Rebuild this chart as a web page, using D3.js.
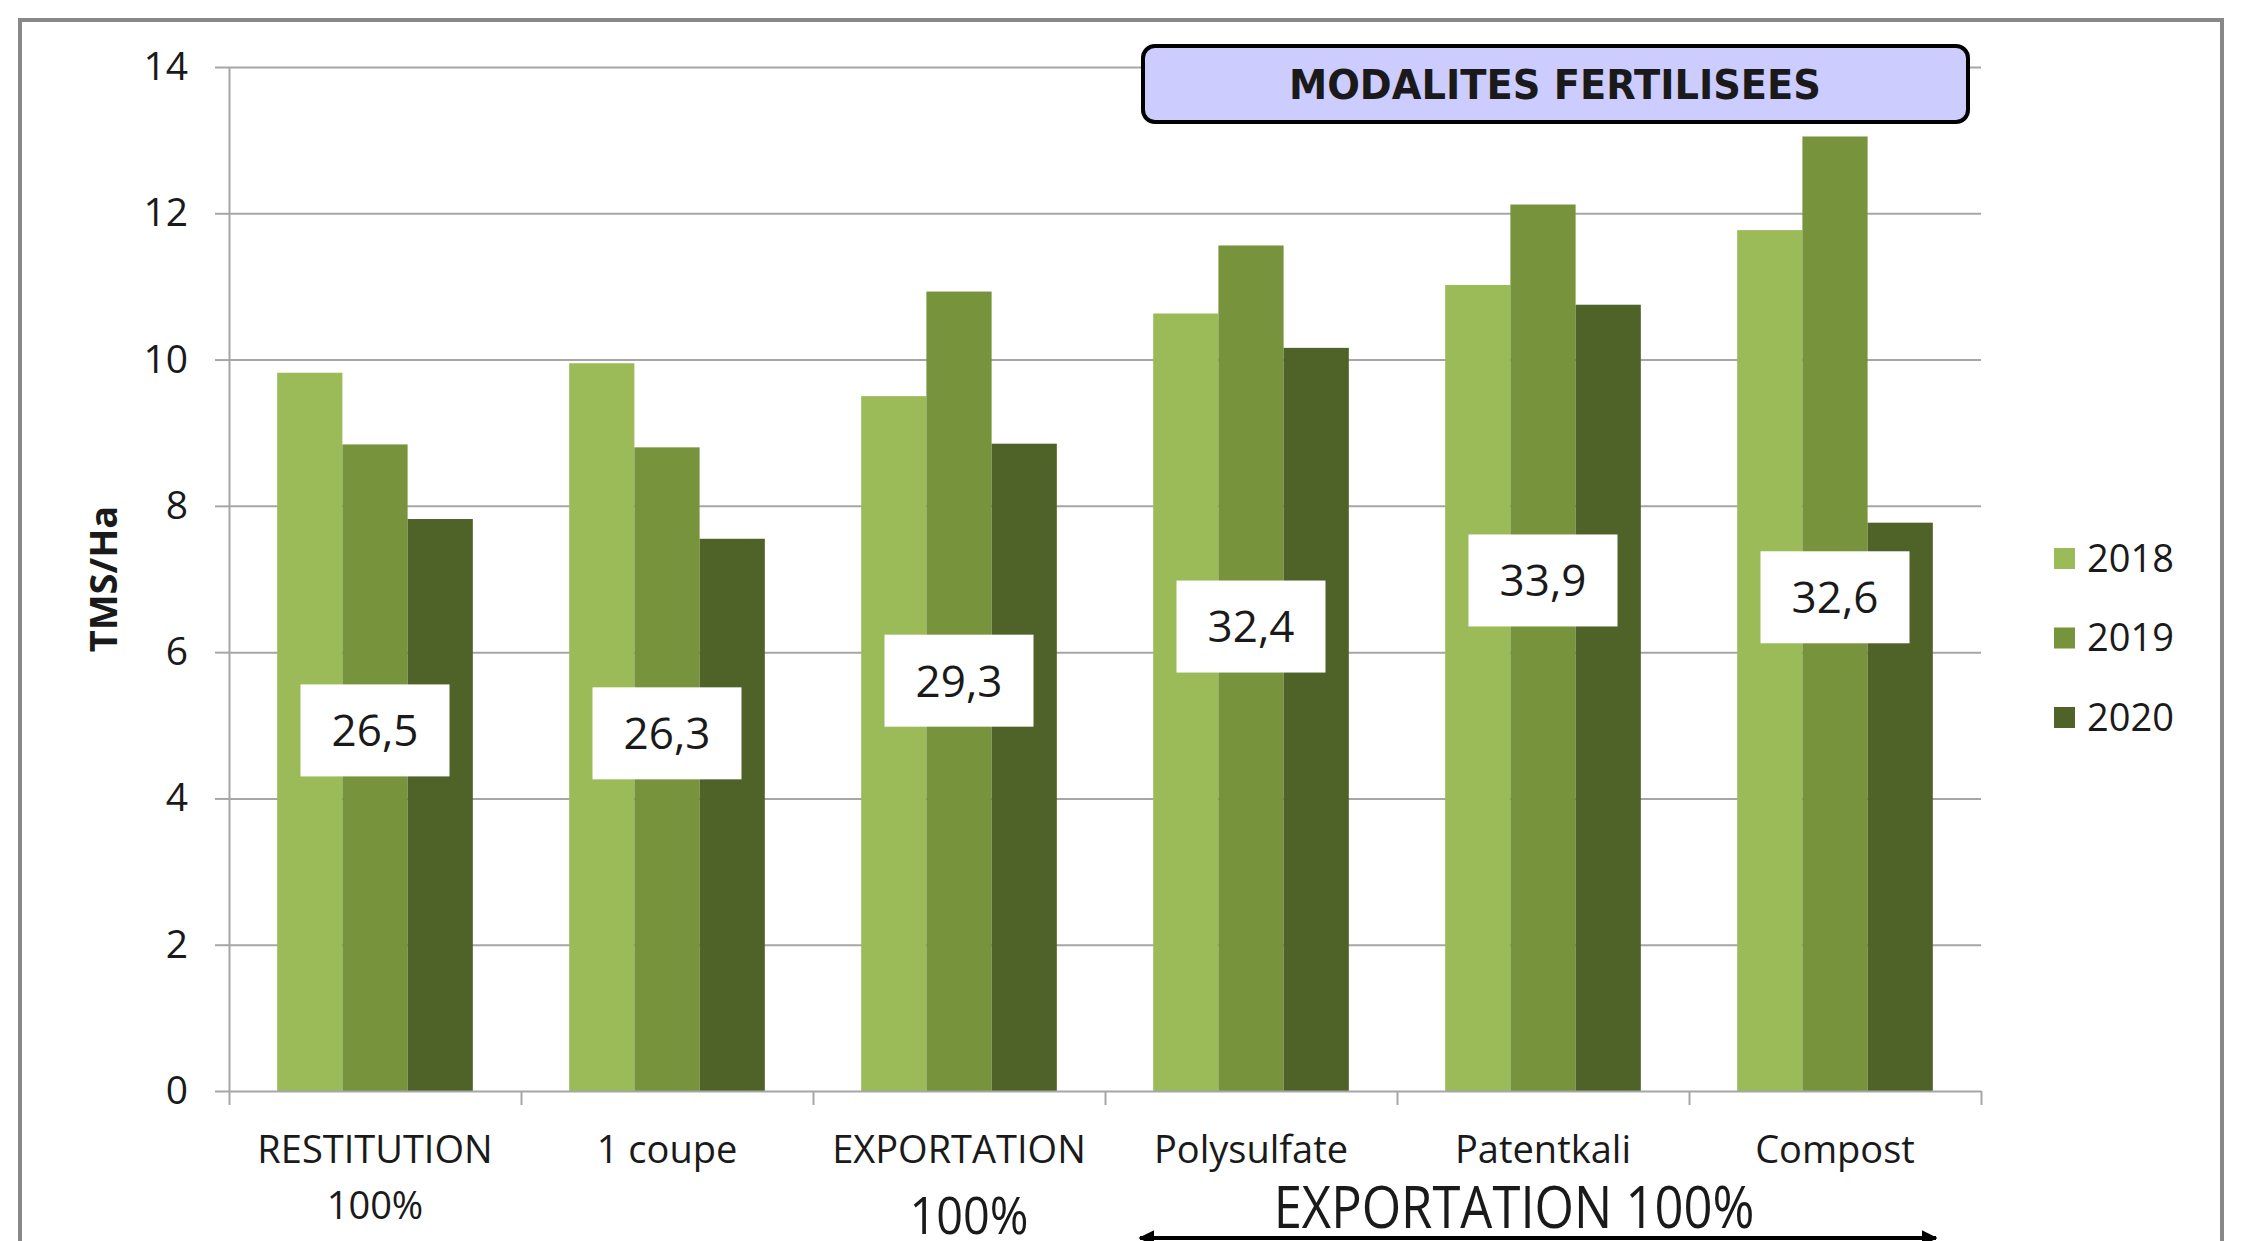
<!DOCTYPE html>
<html>
<head>
<meta charset="utf-8">
<script src="https://cdn.jsdelivr.net/npm/d3@7"></script>
<style>
  body { margin: 0; background: #fff; }
  text { font-family: "Open Sans", sans-serif; fill: #1a1a1a; }
</style>
</head>
<body>
<div id="chart"></div>
<script>
// categories (a "|" starts a new line in the axis label)
var categories = ["RESTITUTION|100%", "1 coupe", "EXPORTATION", "Polysulfate", "Patentkali", "Compost"];
var years = ["2018", "2019", "2020"];
var colors = ["#9bbb59", "#77933c", "#4f6228"];

// TMS/Ha per year
var values2018 = [9.82, 9.95, 9.50, 10.63, 11.02, 11.77];
var values2019 = [8.84, 8.80, 10.93, 11.56, 12.12, 13.05];
var values2020 = [7.82, 7.55, 8.85, 10.16, 10.75, 7.77];

// cumulated totals written in the white boxes
var totalLabels = ["26,5", "26,3", "29,3", "32,4", "33,9", "32,6"];
var yTicks = [0, 2, 4, 6, 8, 10, 12, 14];

// height (in TMS/Ha) where each total box sits
var labelLevel = [4.93, 4.89, 5.61, 6.35, 6.98, 6.75];

var series = [values2018, values2019, values2020];

var width = 2243, height = 1241;
var plot = { left: 229, right: 1981, top: 67, bottom: 1091 };

var svg = d3.select("#chart")
  .append("svg")
  .attr("width", width)
  .attr("height", height);

svg.append("defs").append("marker")
  .attr("id", "head")
  .attr("viewBox", "0 0 10 10")
  .attr("refX", 9).attr("refY", 5)
  .attr("markerWidth", 4).attr("markerHeight", 4)
  .attr("orient", "auto-start-reverse")
  .append("path").attr("d", "M0,0L10,5L0,10z").attr("fill", "#000");

var x0 = d3.scaleBand()
  .domain(d3.range(categories.length))
  .range([plot.left, plot.right])
  .paddingInner(0.33)
  .paddingOuter(0.165);

var x1 = d3.scaleBand()
  .domain(years)
  .range([0, x0.bandwidth()]);

var y = d3.scaleLinear()
  .domain([0, 14])
  .range([plot.bottom, plot.top]);

// gridlines
var grid = svg.append("g")
  .attr("transform", "translate(" + plot.left + ",0)")
  .call(d3.axisLeft(y).tickValues(yTicks.slice(1)).tickSize(-(plot.right - plot.left)).tickFormat(""));
grid.select(".domain").remove();
grid.selectAll("line").attr("stroke", "#a6a6a6").attr("stroke-width", 2);

// bars
categories.forEach(function (c, i) {
  svg.append("g")
    .attr("transform", "translate(" + x0(i) + ",0)")
    .selectAll("rect")
    .data(years)
    .enter()
    .append("rect")
    .attr("x", function (d) { return x1(d); })
    .attr("y", function (d, j) { return y(series[j][i]); })
    .attr("width", x1.bandwidth())
    .attr("height", function (d, j) { return y(0) - y(series[j][i]); })
    .attr("fill", function (d, j) { return colors[j]; });
});

// y axis
var yAxis = svg.append("g")
  .attr("transform", "translate(" + plot.left + ",0)")
  .call(d3.axisLeft(y).tickValues(yTicks).tickSize(14).tickSizeOuter(0).tickPadding(27));
yAxis.select(".domain").attr("stroke", "#a6a6a6").attr("stroke-width", 2);
yAxis.selectAll("line").attr("stroke", "#a6a6a6").attr("stroke-width", 2);
yAxis.selectAll("text").style("font-size", "39px").attr("fill", "#1a1a1a");

// x axis, ticks between the categories
var xb = d3.scaleLinear().domain([0, categories.length]).range([plot.left, plot.right]);
var xAxis = svg.append("g")
  .attr("transform", "translate(0," + plot.bottom + ")")
  .call(d3.axisBottom(xb).tickValues(d3.range(categories.length + 1)).tickSize(14).tickSizeOuter(0).tickFormat(""));
xAxis.select(".domain").attr("stroke", "#a6a6a6").attr("stroke-width", 2);
xAxis.selectAll("line").attr("stroke", "#a6a6a6").attr("stroke-width", 2);

// category labels
categories.forEach(function (c, i) {
  var t = svg.append("text")
    .attr("x", x0(i) + x0.bandwidth() / 2)
    .attr("y", 1163)
    .attr("text-anchor", "middle")
    .style("font-size", "38px");
  c.split("|").forEach(function (line, k) {
    t.append("tspan")
      .attr("x", x0(i) + x0.bandwidth() / 2)
      .attr("dy", k === 0 ? 0 : 56)
      .text(line);
  });
});

// y title
svg.append("text")
  .attr("transform", "translate(117,579) rotate(-90)")
  .attr("text-anchor", "middle")
  .style("font-size", "38px")
  .style("font-weight", "bold")
  .text("TMS/Ha");

// total boxes
totalLabels.forEach(function (lab, i) {
  var cx = x0(i) + x0.bandwidth() / 2, cy = y(labelLevel[i]);
  svg.append("rect")
    .attr("x", cx - 74.5).attr("y", cy - 46)
    .attr("width", 149).attr("height", 92)
    .attr("fill", "#fff");
  svg.append("text")
    .attr("x", cx).attr("y", cy)
    .attr("dy", "0.36em")
    .attr("text-anchor", "middle")
    .style("font-size", "44px")
    .text(lab);
});

// title box
svg.append("rect")
  .attr("x", 1143).attr("y", 46)
  .attr("width", 825).attr("height", 76)
  .attr("rx", 12)
  .attr("fill", "#ccccff")
  .attr("stroke", "#000")
  .attr("stroke-width", 4);
var title = svg.append("text")
  .attr("text-anchor", "middle")
  .style("font-family", "'DejaVu Sans', Verdana, sans-serif")
  .style("font-size", "41px")
  .style("font-weight", "bold")
  .attr("fill", "#000")
  .text("MODALITES FERTILISEES");
var tw = title.node().getComputedTextLength();
title.attr("transform", "translate(1555,99) scale(" + (532 / tw) + ",1)");

// legend
var legend = svg.append("g").attr("transform", "translate(2054,558)");
years.forEach(function (yr, j) {
  var g = legend.append("g").attr("transform", "translate(0," + (j * 79.5) + ")");
  g.append("rect").attr("x", 0).attr("y", -10).attr("width", 21).attr("height", 21).attr("fill", colors[j]);
  g.append("text").attr("x", 33).attr("y", 0).attr("dy", "0.36em").style("font-size", "38px").text(yr);
});

// outer frame
svg.append("rect")
  .attr("x", 20).attr("y", 20)
  .attr("width", 2202).attr("height", 1300)
  .attr("fill", "none")
  .attr("stroke", "#888")
  .attr("stroke-width", 4);

// bottom annotations
svg.append("text")
  .attr("transform", "translate(969,1234) scale(0.9,1)")
  .attr("text-anchor", "middle")
  .style("font-size", "52px")
  .attr("fill", "#000")
  .text("100%");

svg.append("text")
  .attr("transform", "translate(1514,1228) scale(0.86,1)")
  .attr("text-anchor", "middle")
  .style("font-size", "59px")
  .attr("fill", "#000")
  .text("EXPORTATION 100%");

svg.append("line")
  .attr("x1", 1140).attr("x2", 1936)
  .attr("y1", 1238).attr("y2", 1238)
  .attr("stroke", "#000")
  .attr("stroke-width", 4)
  .attr("marker-start", "url(#head)")
  .attr("marker-end", "url(#head)");
</script>
</body>
</html>
